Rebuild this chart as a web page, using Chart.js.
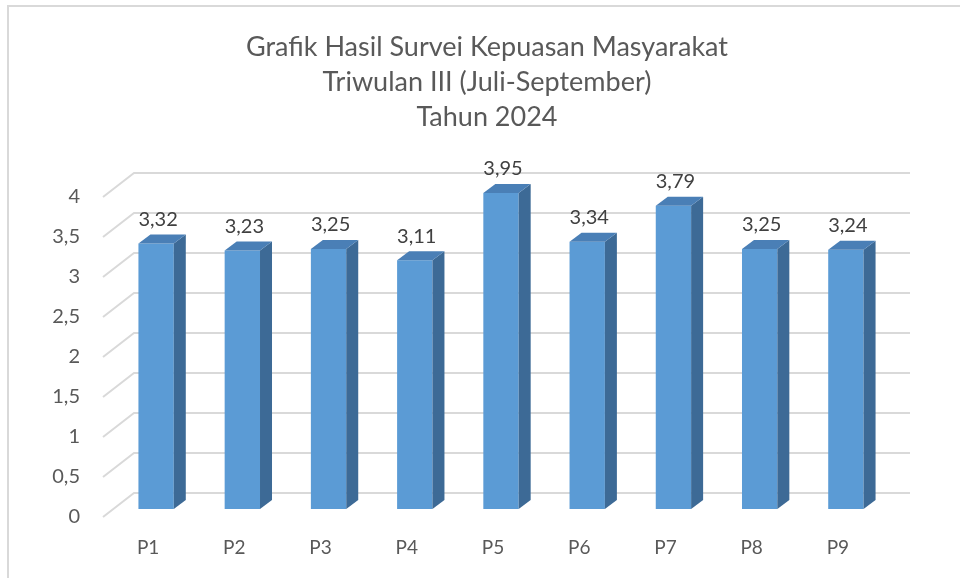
<!DOCTYPE html>
<html>
<head>
<meta charset="utf-8">
<script src="https://cdn.jsdelivr.net/npm/chart.js@4.4.1/dist/chart.umd.min.js"></script>
<style>
  html, body { margin: 0; padding: 0; background: #fff; }
  #wrap { width: 960px; height: 578px; }
</style>
</head>
<body>
<div id="wrap"><canvas id="chart" width="960" height="578"></canvas></div>
<script>
const titleLines = ['Grafik Hasil Survei Kepuasan Masyarakat', 'Triwulan III (Juli-September)', 'Tahun 2024'];
const categories = ['P1', 'P2', 'P3', 'P4', 'P5', 'P6', 'P7', 'P8', 'P9'];
const scores = [3.32, 3.23, 3.25, 3.11, 3.95, 3.34, 3.79, 3.25, 3.24];
const yTicks = [0, 0.5, 1, 1.5, 2, 2.5, 3, 3.5, 4];

const textColor = '#595959';
const depthX = 12, depthY = -9;      // 3d offset of bar side/top
const wallX = 21, wallY = -24;       // back wall offset for gridlines

function fmt(v) {
    return v.toString().replace('.', ',');
}

// frame around the chart like the excel chart border
const borderPlugin = {
    id: 'border',
    beforeDraw(chart) {
        const ctx = chart.ctx;
        ctx.save();
        ctx.strokeStyle = '#d9d9d9';
        ctx.lineWidth = 2;
        ctx.beginPath();
        ctx.moveTo(8, chart.height);
        ctx.lineTo(8, 6);
        ctx.lineTo(chart.width, 6);
        ctx.stroke();
        ctx.restore();
    }
};

// title is centred a bit right of the canvas centre, so draw it here
const titlePlugin = {
    id: 'chartTitle',
    afterDraw(chart) {
        const ctx = chart.ctx;
        ctx.save();
        ctx.fillStyle = textColor;
        ctx.font = '27px Lato';
        ctx.textAlign = 'center';
        ctx.textBaseline = 'middle';
        titleLines.forEach((line, i) => ctx.fillText(line, 487, 47 + i * 35));
        ctx.restore();
    }
};

// gridlines drawn on the floor edge + back wall
const wallGrid = {
    id: 'wallGrid',
    beforeDatasetsDraw(chart) {
        const ctx = chart.ctx;
        const y = chart.scales.y;
        const area = chart.chartArea;
        ctx.save();
        ctx.strokeStyle = '#d9d9d9';
        ctx.lineWidth = 2;
        y.ticks.forEach(t => {
            const py = y.getPixelForValue(t.value);
            ctx.beginPath();
            ctx.moveTo(area.left - 10, py + 8);
            ctx.lineTo(area.left + wallX, py + 8 + wallY);
            ctx.lineTo(area.right + wallX, py + 8 + wallY);
            ctx.stroke();
        });
        ctx.restore();
    }
};

// side + top faces of each bar, then value labels
const bars3d = {
    id: 'bars3d',
    afterDatasetsDraw(chart) {
        const ctx = chart.ctx;
        const meta = chart.getDatasetMeta(0);
        ctx.save();
        meta.data.forEach((bar, i) => {
            const p = bar.getProps(['x', 'y', 'base', 'width'], true);
            const l = p.x - p.width / 2, r = p.x + p.width / 2;
            // side
            ctx.fillStyle = '#3d6a96';
            ctx.beginPath();
            ctx.moveTo(r, p.y);
            ctx.lineTo(r + depthX, p.y + depthY);
            ctx.lineTo(r + depthX, p.base + depthY);
            ctx.lineTo(r, p.base);
            ctx.closePath();
            ctx.fill();
            // top
            ctx.fillStyle = '#4a7fb6';
            ctx.beginPath();
            ctx.moveTo(l, p.y);
            ctx.lineTo(l + depthX, p.y + depthY);
            ctx.lineTo(r + depthX, p.y + depthY);
            ctx.lineTo(r, p.y);
            ctx.closePath();
            ctx.fill();

            ctx.fillStyle = '#404040';
            ctx.font = '20px Lato';
            ctx.textAlign = 'center';
            ctx.textBaseline = 'middle';
            ctx.fillText(fmt(scores[i]), p.x + 2, p.y - 24);
        });
        ctx.restore();
    }
};

Chart.defaults.font.family = 'Lato';
Chart.defaults.color = textColor;

new Chart(document.getElementById('chart'), {
    type: 'bar',
    data: {
        labels: categories,
        datasets: [{
            data: scores,
            backgroundColor: '#5b9bd5',
            borderWidth: 0,
            barPercentage: 0.41,
            categoryPercentage: 1
        }]
    },
    options: {
        responsive: false,
        animation: false,
        events: [],
        layout: { padding: { left: 0, right: 71, top: 189, bottom: 0 } },
        plugins: {
            legend: { display: false },
            tooltip: { enabled: false },
            title: { display: false }
        },
        scales: {
            x: {
                grid: { display: false, drawTicks: false },
                border: { display: false },
                ticks: { color: textColor, font: { size: 19 }, padding: 27, labelOffset: -8 },
                afterFit: s => { s.height = 69; }
            },
            y: {
                min: 0,
                max: 4,
                grid: { display: false, drawTicks: false },
                border: { display: false },
                afterBuildTicks: s => { s.ticks = yTicks.map(v => ({ value: v })); },
                ticks: { color: textColor, font: { size: 20 }, padding: 33, labelOffset: 8, callback: v => fmt(v) },
                afterFit: s => { s.width = 113; }
            }
        }
    },
    plugins: [borderPlugin, wallGrid, bars3d, titlePlugin]
});
</script>
</body>
</html>
